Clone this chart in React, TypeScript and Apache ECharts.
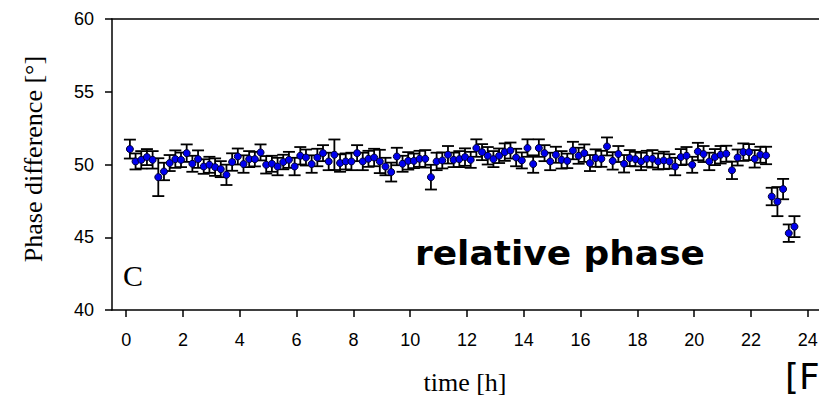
import React, { useEffect, useRef } from "react";
import * as echarts from "echarts";

// time [h] of each sample
const times: number[] = [
  0.13, 0.33, 0.53, 0.73, 0.93, 1.13, 1.33, 1.53, 1.73, 1.93,
  2.13, 2.33, 2.53, 2.73, 2.93, 3.13, 3.33, 3.53, 3.73, 3.93,
  4.13, 4.33, 4.53, 4.73, 4.93, 5.13, 5.33, 5.53, 5.73, 5.93,
  6.13, 6.33, 6.53, 6.73, 6.93, 7.13, 7.33, 7.53, 7.73, 7.93,
  8.13, 8.33, 8.53, 8.73, 8.93, 9.13, 9.33, 9.53, 9.73, 9.93,
  10.13, 10.33, 10.53, 10.73, 10.93, 11.13, 11.33, 11.53, 11.73, 11.93,
  12.13, 12.33, 12.53, 12.73, 12.93, 13.13, 13.33, 13.53, 13.73, 13.93,
  14.13, 14.33, 14.53, 14.73, 14.93, 15.13, 15.33, 15.53, 15.73, 15.93,
  16.13, 16.33, 16.53, 16.73, 16.93, 17.13, 17.33, 17.53, 17.73, 17.93,
  18.13, 18.33, 18.53, 18.73, 18.93, 19.13, 19.33, 19.53, 19.73, 19.93,
  20.13, 20.33, 20.53, 20.73, 20.93, 21.13, 21.33, 21.53, 21.73, 21.93,
  22.13, 22.33, 22.53, 22.73, 22.93, 23.13, 23.33, 23.53,
];

// phase difference [°]
const phase: number[] = [
  51.06, 50.21, 50.32, 50.51, 50.32, 49.13, 49.52, 50.10, 50.37, 50.32,
  50.78, 50.05, 50.37, 49.86, 49.98, 49.82, 49.68, 49.29, 50.17, 50.55,
  50.03, 50.37, 50.37, 50.83, 49.98, 50.05, 49.86, 50.17, 50.32, 49.86,
  50.60, 50.48, 50.03, 50.48, 50.78, 50.21, 50.67, 50.10, 50.21, 50.21,
  50.78, 50.21, 50.39, 50.48, 50.21, 49.86, 49.48, 50.55, 50.05, 50.25,
  50.25, 50.39, 50.39, 49.13, 50.21, 50.28, 50.67, 50.32, 50.37, 50.51,
  50.32, 51.13, 50.85, 50.60, 50.37, 50.60, 50.85, 50.96, 50.48, 50.28,
  51.13, 50.03, 51.13, 50.78, 50.21, 50.67, 50.32, 50.25, 50.96, 50.60,
  50.78, 50.10, 50.44, 50.39, 51.24, 50.25, 50.72, 50.05, 50.44, 50.37,
  50.21, 50.39, 50.39, 50.21, 50.28, 50.21, 49.86, 50.51, 50.60, 49.98,
  50.89, 50.72, 50.21, 50.51, 50.67, 50.74, 49.60, 50.48, 50.85, 50.85,
  50.39, 50.67, 50.62, 47.80, 47.45, 48.31, 45.28, 45.73,
];

// error bar half-width [°]
const errors: number[] = [
  0.65, 0.55, 0.6, 0.55, 0.6, 1.3, 0.6, 0.55, 0.6, 0.5,
  0.6, 0.55, 0.6, 0.5, 0.55, 0.6, 0.55, 0.7, 0.6, 0.55,
  0.6, 0.55, 0.5, 0.55, 0.6, 0.55, 0.6, 0.5, 0.55, 0.6,
  0.6, 0.55, 0.6, 0.6, 0.55, 0.6, 1.05, 0.6, 0.55, 0.6,
  0.55, 0.6, 0.55, 0.6, 0.8, 0.6, 0.65, 0.6, 0.55, 0.6,
  0.5, 0.55, 0.6, 0.85, 0.6, 0.55, 0.6, 0.5, 0.55, 0.6,
  0.55, 0.6, 0.55, 0.6, 0.55, 0.5, 0.6, 0.55, 0.6, 0.55,
  0.6, 0.6, 0.6, 0.55, 0.6, 0.55, 0.6, 0.5, 0.6, 0.55,
  0.6, 0.55, 0.6, 0.55, 0.62, 0.6, 0.55, 0.6, 0.55, 0.5,
  0.6, 0.55, 0.6, 0.55, 0.6, 0.5, 0.6, 0.55, 0.6, 0.55,
  0.6, 0.55, 0.6, 0.55, 0.6, 0.55, 0.6, 0.55, 0.6, 0.55,
  0.6, 0.55, 0.6, 0.6, 1.0, 0.7, 0.6, 0.72,
];

const xTickValues: number[] = [0, 2, 4, 6, 8, 10, 12, 14, 16, 18, 20, 22, 24];

const yAxisTitle = "Phase difference [°]";
const xAxisTitle = "time [h]";
const panelLetter = "C";
const annotation = "relative phase";
const cornerText = "[F";

export default function App() {
  const ref = useRef<HTMLDivElement>(null);

  useEffect(() => {
    if (!ref.current) return;
    const chart = echarts.init(ref.current, undefined, { renderer: "svg" });

    const barData = times.map((t, i) => [t, phase[i], errors[i]]);
    const dotData = times.map((t, i) => [t, phase[i]]);

    const tickFont = {
      color: "#000",
      fontFamily: "Liberation Sans, Arial, sans-serif",
      fontSize: 18,
    };

    chart.setOption({
      animation: false,
      backgroundColor: "#fff",
      grid: { left: 112, right: 8, top: 19, bottom: 88 },
      xAxis: [
        {
          type: "value",
          min: -0.5,
          max: 24.5,
          position: "bottom",
          axisLine: { show: true, onZero: false, lineStyle: { color: "#000", width: 1.5 } },
          axisTick: {
            show: true,
            customValues: xTickValues,
            length: 7,
            lineStyle: { color: "#000", width: 1.5 },
          },
          axisLabel: { customValues: xTickValues, margin: 21, ...tickFont },
          splitLine: { show: false },
        },
        {
          type: "value",
          min: -0.5,
          max: 24.5,
          position: "top",
          axisLine: { show: true, onZero: false, lineStyle: { color: "#000", width: 1.5 } },
          axisTick: { show: false },
          axisLabel: { show: false },
          splitLine: { show: false },
        },
      ],
      yAxis: {
        type: "value",
        min: 40,
        max: 60,
        interval: 5,
        axisLine: { show: true, onZero: false, lineStyle: { color: "#000", width: 1.5 } },
        axisTick: { show: true, length: 7, lineStyle: { color: "#000", width: 1.5 } },
        axisLabel: { margin: 18, ...tickFont },
        splitLine: { show: false },
      },
      series: [
        {
          type: "custom",
          xAxisIndex: 0,
          data: barData,
          encode: { x: 0, y: 1 },
          z: 2,
          renderItem: (params: any, api: any) => {
            const x = api.value(0);
            const y = api.value(1);
            const e = api.value(2);
            const top = api.coord([x, y + e]);
            const bot = api.coord([x, y - e]);
            const hw = 6;
            const st = { stroke: "#000", lineWidth: 1.8 };
            return {
              type: "group",
              children: [
                { type: "line", shape: { x1: top[0], y1: top[1], x2: bot[0], y2: bot[1] }, style: st },
                { type: "line", shape: { x1: top[0] - hw, y1: top[1], x2: top[0] + hw, y2: top[1] }, style: st },
                { type: "line", shape: { x1: bot[0] - hw, y1: bot[1], x2: bot[0] + hw, y2: bot[1] }, style: st },
              ],
            };
          },
        },
        {
          type: "scatter",
          xAxisIndex: 0,
          data: dotData,
          symbol: "circle",
          symbolSize: 7,
          z: 3,
          itemStyle: { color: "#0000ee", borderColor: "#000033", borderWidth: 1, opacity: 1 },
        },
      ],
      graphic: [
        {
          type: "text",
          x: 33,
          y: 159,
          rotation: Math.PI / 2,
          style: {
            text: yAxisTitle,
            fill: "#000",
            font: '26px "Liberation Serif", "Times New Roman", serif',
            align: "center",
            verticalAlign: "middle",
          },
        },
        {
          type: "text",
          x: 465,
          y: 382,
          style: {
            text: xAxisTitle,
            fill: "#000",
            font: '26px "Liberation Serif", "Times New Roman", serif',
            align: "center",
            verticalAlign: "middle",
          },
        },
        {
          type: "text",
          x: 133,
          y: 275,
          style: {
            text: panelLetter,
            fill: "#000",
            font: '30px "Liberation Serif", "Times New Roman", serif',
            align: "center",
            verticalAlign: "middle",
          },
        },
        {
          type: "text",
          x: 415,
          y: 254,
          scaleX: 1.09,
          style: {
            text: annotation,
            fill: "#000",
            font: 'bold 33px "Comic Sans MS", "DejaVu Sans", sans-serif',
            align: "left",
            verticalAlign: "middle",
          },
        },
        {
          type: "text",
          x: 785,
          y: 376,
          style: {
            text: cornerText,
            fill: "#000",
            font: '36px "Comic Sans MS", "DejaVu Sans", sans-serif',
            align: "left",
            verticalAlign: "middle",
          },
        },
      ],
    });

    return () => chart.dispose();
  }, []);

  return (
    <div
      style={{
        position: "fixed",
        left: 0,
        top: 0,
        width: 819,
        height: 398,
        overflow: "hidden",
        background: "#fff",
      }}
    >
      <div ref={ref} style={{ width: 830, height: 398 }} />
    </div>
  );
}
